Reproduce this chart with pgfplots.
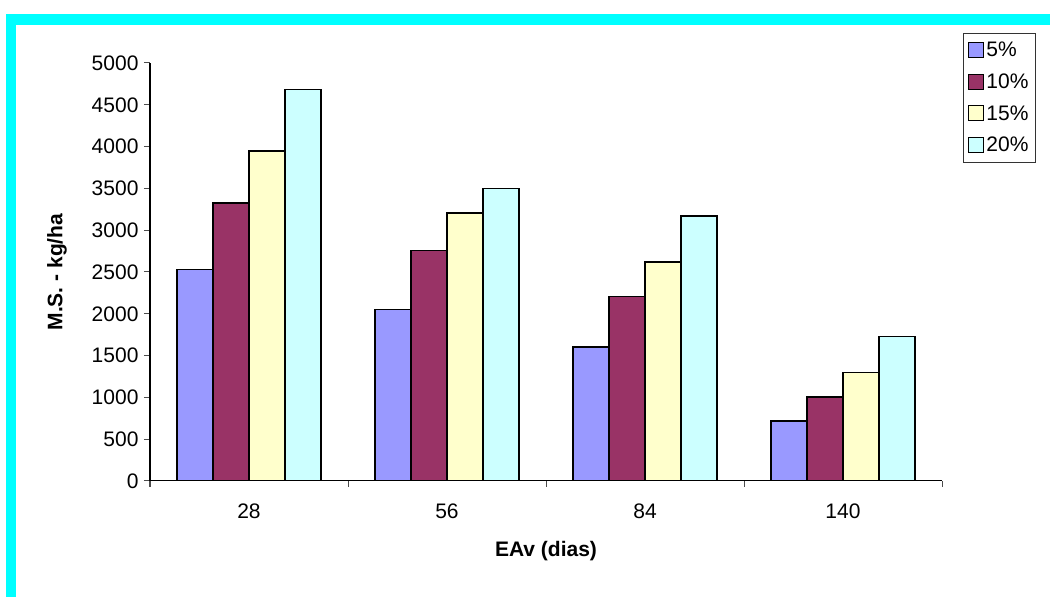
\documentclass[border=0pt]{standalone}
\usepackage{pgfplots}
\pgfplotsset{compat=1.18}
\usepackage{fontspec}
\setmainfont{Liberation Sans}
\definecolor{cA}{HTML}{9999FF}
\definecolor{cB}{HTML}{993366}
\definecolor{cC}{HTML}{FFFFCC}
\definecolor{cD}{HTML}{CCFFFF}
\definecolor{cyanb}{HTML}{00FFFF}
\begin{document}
\begin{tikzpicture}[x=1pt,y=1pt]
\fill[white] (0,0) rectangle (1050,597);
\fill[cyanb] (6,572) rectangle (1050,583);
\fill[cyanb] (6,0) rectangle (16,583);
\begin{axis}[
  at={(150pt,116pt)}, anchor=south west,
  scale only axis, width=792pt, height=418pt,
  axis lines*=left,
  axis line style={black, line width=1pt},
  ybar=0pt, bar width=36pt,
  xmin=-0.5, xmax=3.5, ymin=0, ymax=5000,
  xtick={0,1,2,3}, xticklabels={28,56,84,140},
  major x tick style={draw=none},
  minor xtick={-0.5,0.5,1.5,2.5,3.5},
  ytick={0,500,...,5000},
  tick align=outside, major tick length=6pt, minor tick length=6pt,
  tick style={black!70, line width=1pt},
  /pgf/number format/assume math mode=true,
  /pgf/number format/1000 sep={},
  tick label style={font=\fontsize{21}{23}\selectfont},
  xticklabel style={yshift=-13pt},
  yticklabel style={xshift=-2pt},
  xlabel={\textbf{EAv (dias)}},
  ylabel={\textbf{M.S. - kg/ha}},
  label style={font=\fontsize{21}{23}\selectfont},
  xlabel style={at={(rel axis cs:0.5,-0.1675)}, anchor=center},
  ylabel style={at={(rel axis cs:-0.1174,0.5)}, anchor=center},
  legend style={at={(rel axis cs:1.0265,1.0718)}, anchor=north west,
    draw=black!80, line width=0.8pt, font=\fontsize{21}{23}\selectfont,
    inner xsep=5pt, inner ysep=7pt, row sep=11.5pt,
    nodes={inner xsep=2pt}},
  legend cell align=left,
  legend image code/.code={\draw[#1, line width=1pt] (0pt,-7pt) rectangle (15pt,8pt);},
]
\addplot[fill=cA, draw=black, line width=1.5pt] coordinates {(0,2530) (1,2050) (2,1605) (3,715)};
\addplot[fill=cB, draw=black, line width=1.5pt] coordinates {(0,3325) (1,2760) (2,2205) (3,1005)};
\addplot[fill=cC, draw=black, line width=1.5pt] coordinates {(0,3950) (1,3205) (2,2620) (3,1300)};
\addplot[fill=cD, draw=black, line width=1.5pt] coordinates {(0,4680) (1,3500) (2,3170) (3,1730)};
\legend{5\%,10\%,15\%,20\%}
\end{axis}
\end{tikzpicture}
\end{document}
